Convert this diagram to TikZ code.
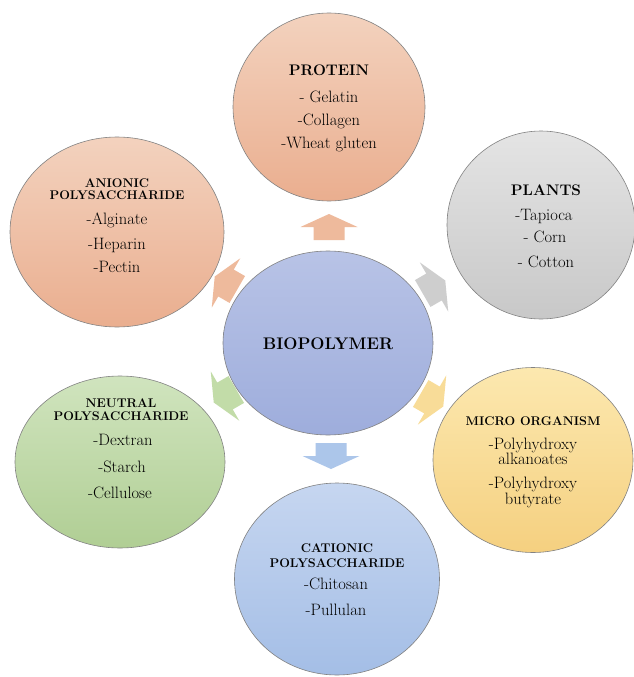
\documentclass[tikz,border=0pt]{standalone}
\usetikzlibrary{shapes.geometric}
\definecolor{peachT}{RGB}{243,210,190}
\definecolor{peachB}{RGB}{234,174,143}
\definecolor{grayT}{RGB}{228,228,228}
\definecolor{grayB}{RGB}{200,200,200}
\definecolor{cenT}{RGB}{184,195,230}
\definecolor{cenB}{RGB}{158,173,220}
\definecolor{yelT}{RGB}{252,232,175}
\definecolor{yelB}{RGB}{245,208,128}
\definecolor{ltbT}{RGB}{198,214,240}
\definecolor{ltbB}{RGB}{164,190,230}
\definecolor{grnT}{RGB}{208,228,190}
\definecolor{grnB}{RGB}{176,206,148}
\definecolor{bubline}{RGB}{130,130,130}
\definecolor{arrPeach}{RGB}{238,186,156}
\definecolor{arrGray}{RGB}{206,206,206}
\definecolor{arrYel}{RGB}{248,220,152}
\definecolor{arrGrn}{RGB}{194,220,168}
\definecolor{arrBlu}{RGB}{172,198,234}
\tikzset{
  bub/.style={ellipse, draw=bubline, line width=0.6pt, inner sep=0pt},
  bighd/.style={font=\fontsize{16.8}{16.8}\selectfont\bfseries, anchor=base, inner sep=0pt},
  hd/.style={font=\fontsize{15.3}{15.3}\selectfont\bfseries, anchor=base, inner sep=0pt},
  hs/.style={font=\fontsize{12.6}{12.6}\selectfont\bfseries, anchor=base, inner sep=0pt},
  itm/.style={font=\fontsize{16.5}{16.5}\selectfont, anchor=base, inner sep=0pt},
  blockarrow/.pic={\path[pic actions] (-15.5,-13) -- (15.5,-13) -- (15.5,0) -- (28.5,0) -- (0,13) -- (-28.5,0) -- (-15.5,0) -- cycle;}
}
\begin{document}
\begin{tikzpicture}[x=1pt,y=1pt]
\useasboundingbox[fill=white] (0,0) rectangle (634,-677);
% arrows
\pic[fill=arrPeach] at (329,-227) {blockarrow};
\pic[fill=arrGray, rotate=-60] at (434,-287) {blockarrow};
\pic[fill=arrYel, rotate=-120] at (432,-400) {blockarrow};
\pic[fill=arrBlu, rotate=180] at (331,-456) {blockarrow};
\pic[fill=arrGrn, rotate=120] at (225,-396) {blockarrow};
\pic[fill=arrPeach, rotate=60] at (226,-283) {blockarrow};
% bubbles
\node[bub, minimum width=210pt, minimum height=184pt, top color=cenT, bottom color=cenB] (bio) at (328,-343) {};
\node[bub, minimum width=192pt, minimum height=188pt, top color=peachT, bottom color=peachB] (prot) at (329,-107) {};
\node[bub, minimum width=188pt, minimum height=188pt, top color=grayT, bottom color=grayB] (plant) at (541,-225) {};
\node[bub, minimum width=200pt, minimum height=185pt, top color=yelT, bottom color=yelB] (micro) at (533,-460) {};
\node[bub, minimum width=205pt, minimum height=192pt, top color=ltbT, bottom color=ltbB] (cat) at (337,-579) {};
\node[bub, minimum width=210pt, minimum height=172pt, top color=grnT, bottom color=grnB] (neu) at (120,-462) {};
\node[bub, minimum width=214pt, minimum height=190pt, top color=peachT, bottom color=peachB] (ani) at (117,-232) {};
% texts
\node[bighd] (tbio) at (328,-349) {BIOPOLYMER};
\node[hd] (p1) at (329,-75) {PROTEIN};
\node[itm] (p2) at (329,-102) {- Gelatin};
\node[itm] (p3) at (329,-125) {-Collagen};
\node[itm] (p4) at (329,-148) {-Wheat gluten};
\node[hd] (l1) at (546,-195) {PLANTS};
\node[itm] (l2) at (544,-220) {-Tapioca};
\node[itm] (l3) at (545,-242) {- Corn};
\node[itm] (l4) at (546,-267) {- Cotton};
\node[hs] (a1) at (117,-187) {ANIONIC};
\node[hs] (a2) at (117,-199.5) {POLYSACCHARIDE};
\node[itm] (a3) at (117,-224) {-Alginate};
\node[itm] (a4) at (117,-249) {-Heparin};
\node[itm] (a5) at (117,-272) {-Pectin};
\node[hs] (n1) at (121,-407) {NEUTRAL};
\node[hs] (n2) at (121,-420) {POLYSACCHARIDE};
\node[itm] (n3) at (123,-445) {-Dextran};
\node[itm] (n4) at (122,-472) {-Starch};
\node[itm] (n5) at (120,-498) {-Cellulose};
\node[hs] (m1) at (533,-425) {MICRO ORGANISM};
\node[itm] (m2) at (533,-449) {-Polyhydroxy};
\node[itm] (m3) at (533,-464.5) {alkanoates};
\node[itm] (m4) at (533,-488.5) {-Polyhydroxy};
\node[itm] (m5) at (533,-504) {butyrate};
\node[hs] (c1) at (337,-552) {CATIONIC};
\node[hs] (c2) at (337,-567) {POLYSACCHARIDE};
\node[itm] (c3) at (336,-589) {-Chitosan};
\node[itm] (c4) at (336,-615) {-Pullulan};
\end{tikzpicture}
\end{document}
